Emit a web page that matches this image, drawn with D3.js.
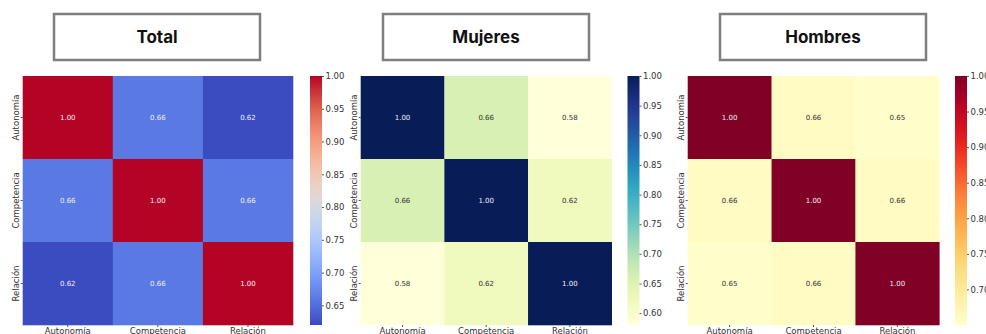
<!DOCTYPE html>
<html>
<head>
<meta charset="utf-8">
<script src="https://cdn.jsdelivr.net/npm/d3@7"></script>
<style>
  html, body { margin: 0; padding: 0; background: #fff; }
  svg { display: block; }
</style>
</head>
<body>
<svg id="chart" width="986" height="334"></svg>
<script>
// Correlation matrices between the three needs, by group
const categories = ["Autonomía", "Competencia", "Relación"];
const panelTitles = ["Total", "Mujeres", "Hombres"];

const totalValues = [
  [1.00, 0.66, 0.62],
  [0.66, 1.00, 0.66],
  [0.62, 0.66, 1.00]
];
const mujeresValues = [
  [1.00, 0.66, 0.58],
  [0.66, 1.00, 0.62],
  [0.58, 0.62, 1.00]
];
const hombresValues = [
  [1.00, 0.66, 0.65],
  [0.66, 1.00, 0.66],
  [0.65, 0.66, 1.00]
];

const totalTicks = [0.65, 0.70, 0.75, 0.80, 0.85, 0.90, 0.95, 1.00];
const mujeresTicks = [0.60, 0.65, 0.70, 0.75, 0.80, 0.85, 0.90, 0.95, 1.00];
const hombresTicks = [0.70, 0.75, 0.80, 0.85, 0.90, 0.95, 1.00];

// matplotlib "coolwarm" sampled at 11 stops
const coolwarm = d3.interpolateRgbBasis([
  "#3b4cc0", "#5977e3", "#7b9ff9", "#9ebeff", "#c0d4f5", "#dddcdc",
  "#f2cbb7", "#f7ac8e", "#ee8468", "#d65244", "#b40426"
]);

const panels = [
  { title: panelTitles[0], values: totalValues, ticks: totalTicks, interp: coolwarm,
    box: [54, 14, 206, 46], x0: 22.7, x1: 293, cbx: 310, lightText: () => true },
  { title: panelTitles[1], values: mujeresValues, ticks: mujeresTicks, interp: d3.interpolateYlGnBu,
    box: [383, 14, 206, 46], x0: 360.7, x1: 611.7, cbx: 627.5, lightText: t => t > 0.6 },
  { title: panelTitles[2], values: hombresValues, ticks: hombresTicks, interp: d3.interpolateYlOrRd,
    box: [720, 14, 206, 46], x0: 687.7, x1: 939.3, cbx: 955, lightText: t => t > 0.6 }
];

const svg = d3.select("#chart");
const plotTop = 76, plotBottom = 325, cbw = 12;
const tickFont = "DejaVu Sans, sans-serif";
const defs = svg.append("defs");

panels.forEach((p, pi) => {
  const flat = p.values.flat();
  const vmin = d3.min(flat), vmax = d3.max(flat);
  const color = d3.scaleSequential(p.interp).domain([vmin, vmax]);

  // Title box
  const g = svg.append("g");
  g.append("rect")
    .attr("x", p.box[0]).attr("y", p.box[1])
    .attr("width", p.box[2]).attr("height", p.box[3])
    .attr("fill", "#fff").attr("stroke", "#7f7f7f").attr("stroke-width", 2.5);
  g.append("text")
    .attr("x", p.box[0] + p.box[2] / 2).attr("y", p.box[1] + p.box[3] / 2 + 6)
    .attr("text-anchor", "middle")
    .attr("font-family", "Inter, Lato, sans-serif")
    .attr("font-weight", 700).attr("font-size", 17)
    .attr("fill", "#111")
    .text(p.title);

  const x = d3.scaleBand().domain(categories).range([p.x0, p.x1]);
  const y = d3.scaleBand().domain(categories).range([plotTop, plotBottom]);

  const cells = [];
  p.values.forEach((row, i) => row.forEach((v, j) => cells.push({ r: categories[i], c: categories[j], v })));

  g.selectAll("rect.cell").data(cells).join("rect")
    .attr("class", "cell")
    .attr("x", d => x(d.c)).attr("y", d => y(d.r))
    .attr("width", x.bandwidth() + 0.3).attr("height", y.bandwidth() + 0.3)
    .attr("fill", d => color(d.v));

  g.selectAll("text.ann").data(cells).join("text")
    .attr("class", "ann")
    .attr("x", d => x(d.c) + x.bandwidth() / 2)
    .attr("y", d => y(d.r) + y.bandwidth() / 2 + 2.5)
    .attr("text-anchor", "middle")
    .attr("font-family", tickFont).attr("font-size", 7)
    .attr("fill", d => p.lightText((d.v - vmin) / (vmax - vmin)) ? "#eef0f6" : "#333")
    .text(d => d3.format(".2f")(d.v));

  // Axes
  const xAxis = g.append("g").attr("transform", `translate(0,${plotBottom})`)
    .call(d3.axisBottom(x).tickSize(2).tickPadding(1));
  xAxis.select(".domain").remove();
  xAxis.selectAll("line").attr("stroke", "#555");
  xAxis.selectAll("text").attr("font-family", tickFont).attr("font-size", 8.5).attr("fill", "#333");

  const yAxis = g.append("g").attr("transform", `translate(${p.x0},0)`)
    .call(d3.axisLeft(y).tickSize(2).tickPadding(2));
  yAxis.select(".domain").remove();
  yAxis.selectAll("line").attr("stroke", "#555");
  yAxis.selectAll("text")
    .attr("font-family", tickFont).attr("font-size", 8.5).attr("fill", "#333")
    .attr("x", 0).attr("dy", 0)
    .attr("text-anchor", "middle")
    .attr("transform", "translate(-4,0) rotate(-90)");

  // Colorbar
  const gid = "cb" + pi;
  const grad = defs.append("linearGradient").attr("id", gid)
    .attr("x1", 0).attr("y1", 1).attr("x2", 0).attr("y2", 0);
  d3.range(0, 1.0001, 0.05).forEach(t => {
    grad.append("stop").attr("offset", t).attr("stop-color", p.interp(t));
  });
  g.append("rect")
    .attr("x", p.cbx).attr("y", plotTop).attr("width", cbw).attr("height", plotBottom - plotTop)
    .attr("fill", `url(#${gid})`);
  const cScale = d3.scaleLinear().domain([vmin, vmax]).range([plotBottom, plotTop]);
  const cAxis = g.append("g").attr("transform", `translate(${p.cbx + cbw},0)`)
    .call(d3.axisRight(cScale).tickValues(p.ticks).tickFormat(d3.format(".2f")).tickSize(2).tickPadding(1.5));
  cAxis.select(".domain").remove();
  cAxis.selectAll("line").attr("stroke", "#555");
  cAxis.selectAll("text").attr("font-family", tickFont).attr("font-size", 8.5).attr("fill", "#333");
});
</script>
</body>
</html>
